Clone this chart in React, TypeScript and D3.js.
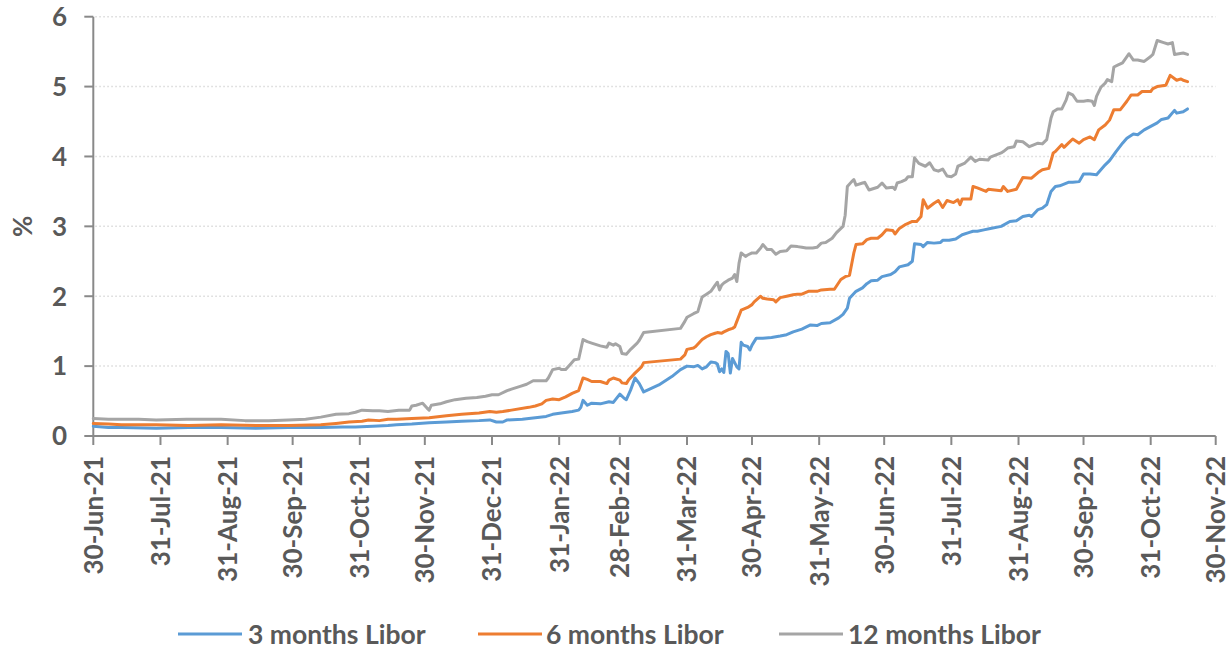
import React from "react";
import * as d3 from "d3";

// Data: day offsets from 30-Jun-21 and Libor values (%)
const BASE_DATE = "2021-06-30";

const days3m = [0,7,13,29,44,59,75,90,105,115,121,129,136,140,147,155,163,170,178,183,186,189,191,198,204,209,212,216,221,224,225,226,228,230,234,238,240,243,245,246,248,250,252,254,261,267,271,274,277,279,281,283,285,287,288,289,290,291,292,293,294,295,297,298,299,300,302,303,304,306,309,313,317,320,323,327,331,334,336,340,344,346,348,349,352,355,357,359,362,364,368,370,372,376,378,379,382,383,385,388,391,392,395,398,401,404,406,408,411,414,419,423,426,429,432,433,436,438,440,442,444,446,450,452,455,457,460,463,465,467,469,472,475,477,480,482,485,488,491,493,496,499,500,503,505];
const libor3m = [0.14,0.12,0.12,0.11,0.12,0.12,0.11,0.12,0.12,0.13,0.13,0.14,0.15,0.16,0.17,0.19,0.20,0.21,0.22,0.23,0.20,0.20,0.23,0.24,0.26,0.28,0.31,0.33,0.35,0.37,0.41,0.51,0.44,0.47,0.46,0.49,0.48,0.60,0.54,0.52,0.66,0.83,0.75,0.63,0.73,0.85,0.95,1.00,0.99,1.01,0.96,0.99,1.06,1.05,1.03,0.92,0.96,0.91,1.21,1.18,0.90,1.11,0.99,0.96,1.34,1.30,1.28,1.23,1.30,1.40,1.40,1.41,1.43,1.45,1.49,1.53,1.59,1.58,1.61,1.62,1.69,1.74,1.83,1.97,2.07,2.12,2.18,2.22,2.23,2.28,2.31,2.35,2.42,2.45,2.50,2.75,2.74,2.71,2.77,2.76,2.77,2.80,2.80,2.82,2.88,2.91,2.93,2.93,2.95,2.97,3.00,3.07,3.08,3.14,3.16,3.14,3.24,3.26,3.31,3.50,3.57,3.58,3.63,3.63,3.64,3.75,3.75,3.74,3.81,3.88,3.94,4.07,4.19,4.26,4.32,4.31,4.38,4.43,4.48,4.53,4.55,4.66,4.62,4.64,4.68];

const days6m = [0,7,13,29,44,59,75,90,105,112,118,124,127,132,136,140,147,155,163,170,178,183,186,189,193,201,204,207,209,212,215,218,221,224,226,228,230,234,237,238,240,243,244,246,247,250,253,254,271,273,274,277,278,281,283,285,287,288,290,291,293,295,296,297,299,302,304,305,308,309,311,314,315,317,320,323,325,327,330,334,336,340,342,345,347,349,351,352,355,357,359,362,364,366,369,370,372,375,378,380,382,383,385,388,390,392,394,397,399,400,401,405,406,408,412,413,419,420,422,426,429,433,436,438,441,443,444,447,448,450,452,455,457,460,462,464,467,469,471,474,475,477,479,482,484,488,489,491,495,497,500,502,503,505];
const libor6m = [0.18,0.17,0.16,0.16,0.15,0.16,0.15,0.15,0.16,0.18,0.20,0.21,0.23,0.22,0.24,0.24,0.25,0.26,0.29,0.31,0.33,0.35,0.34,0.35,0.37,0.41,0.43,0.46,0.51,0.53,0.52,0.56,0.61,0.65,0.83,0.81,0.78,0.78,0.75,0.80,0.83,0.80,0.76,0.75,0.80,0.90,0.99,1.05,1.10,1.16,1.24,1.26,1.28,1.38,1.42,1.45,1.47,1.48,1.47,1.49,1.52,1.54,1.56,1.64,1.80,1.84,1.88,1.92,2.00,1.97,1.96,1.95,1.92,1.98,2.00,2.02,2.03,2.03,2.07,2.07,2.09,2.10,2.10,2.24,2.28,2.30,2.62,2.74,2.75,2.81,2.83,2.83,2.88,2.95,2.94,2.89,2.97,3.03,3.07,3.07,3.14,3.38,3.26,3.33,3.37,3.27,3.37,3.34,3.38,3.31,3.39,3.39,3.57,3.55,3.50,3.53,3.51,3.57,3.50,3.53,3.70,3.69,3.77,3.81,3.83,4.05,4.07,4.17,4.13,4.19,4.25,4.19,4.24,4.28,4.24,4.38,4.45,4.52,4.67,4.67,4.71,4.79,4.88,4.88,4.93,4.93,4.97,5.00,5.02,5.16,5.09,5.11,5.09,5.07];

const days12m = [0,7,21,29,43,59,70,81,90,98,105,112,118,121,124,129,132,136,141,146,147,149,152,154,155,156,160,163,167,172,177,181,184,187,191,193,197,200,203,206,209,210,212,215,216,218,220,222,224,226,228,230,234,237,238,240,241,243,244,246,248,251,252,254,271,273,274,277,279,281,283,285,287,288,289,290,291,293,295,296,297,298,299,301,302,304,306,308,309,311,313,315,317,320,322,325,327,329,332,334,336,338,341,343,346,347,348,350,351,352,355,356,358,362,364,366,369,370,371,373,375,376,378,379,381,384,386,388,390,392,394,396,398,399,402,405,407,409,413,414,419,420,422,425,426,429,432,436,438,440,442,443,445,447,449,450,452,454,457,459,461,462,463,465,467,468,470,471,473,475,478,480,482,485,488,489,491,494,496,498,499,501,503,505];
const libor12m = [0.25,0.24,0.24,0.23,0.24,0.24,0.22,0.22,0.23,0.24,0.27,0.31,0.32,0.34,0.37,0.36,0.36,0.35,0.37,0.37,0.43,0.44,0.47,0.40,0.37,0.44,0.46,0.49,0.52,0.54,0.55,0.57,0.59,0.59,0.65,0.67,0.71,0.74,0.79,0.79,0.79,0.83,0.95,0.97,0.95,0.95,1.02,1.09,1.10,1.38,1.35,1.33,1.29,1.27,1.33,1.30,1.32,1.28,1.18,1.17,1.24,1.33,1.37,1.48,1.54,1.64,1.70,1.75,1.78,1.99,2.03,2.07,2.16,2.20,2.09,2.16,2.19,2.23,2.26,2.31,2.21,2.47,2.62,2.57,2.59,2.62,2.62,2.69,2.74,2.67,2.67,2.60,2.64,2.65,2.72,2.71,2.70,2.69,2.69,2.70,2.76,2.77,2.83,2.91,3.00,3.16,3.57,3.64,3.67,3.59,3.62,3.63,3.52,3.56,3.62,3.55,3.56,3.53,3.62,3.64,3.67,3.71,3.71,3.98,3.90,3.86,3.91,3.81,3.79,3.82,3.72,3.71,3.75,3.86,3.90,3.99,3.93,3.96,3.95,3.99,4.05,4.07,4.12,4.14,4.22,4.21,4.14,4.19,4.18,4.24,4.55,4.64,4.68,4.68,4.81,4.91,4.88,4.79,4.79,4.80,4.79,4.73,4.86,4.99,5.05,5.10,5.07,5.28,5.31,5.34,5.47,5.38,5.38,5.36,5.43,5.46,5.66,5.63,5.61,5.63,5.46,5.47,5.48,5.46];

const seriesNames = ["3 months Libor", "6 months Libor", "12 months Libor"];
const seriesColors = ["#5B9BD5", "#ED7D31", "#A5A5A5"];

const xTickLabels = ["30-Jun-21","31-Jul-21","31-Aug-21","30-Sep-21","31-Oct-21","30-Nov-21","31-Dec-21","31-Jan-22","28-Feb-22","31-Mar-22","30-Apr-22","31-May-22","30-Jun-22","31-Jul-22","31-Aug-22","30-Sep-22","31-Oct-22","30-Nov-22"];
const yTicks = [0, 1, 2, 3, 4, 5, 6];
const yTitle = "%";

const FONT = "Lato, 'Open Sans', sans-serif";
const TEXT = "#595959";
const AXIS = "#898989";

export default function App() {
  const W = 1230, H = 655;
  const left = 93.3, right = 1215.7, top = 16.7, bottom = 436;
  const parse = d3.timeParse("%d-%b-%y");
  const base = d3.timeParse("%Y-%m-%d")(BASE_DATE) as Date;
  const tickDates = xTickLabels.map((s) => parse(s) as Date);

  const x = d3.scaleTime().domain([tickDates[0], tickDates[tickDates.length - 1]]).range([left, right]);
  const y = d3.scaleLinear().domain([0, 6]).range([bottom, top]);

  const mk = (days: number[], vals: number[]) =>
    days.map((d, i) => ({ date: d3.timeDay.offset(base, d), v: vals[i] }));
  const series = [mk(days3m, libor3m), mk(days6m, libor6m), mk(days12m, libor12m)];

  const line = d3
    .line<{ date: Date; v: number }>()
    .x((d) => x(d.date))
    .y((d) => y(d.v));

  const legendItems = [
    { lx: 178, tx: 248 },
    { lx: 478, tx: 546 },
    { lx: 779, tx: 848 },
  ];

  return (
    <svg width={W} height={H} style={{ position: "absolute", left: 0, top: 0, background: "#fff" }}>
      {/* grid */}
      {yTicks.filter((t) => t > 0).map((t) => (
        <line key={"g" + t} x1={left + 2} x2={right} y1={y(t)} y2={y(t)} stroke="#D9D9D9" strokeWidth={1.5} strokeDasharray="1.5 2.5" />
      ))}
      {/* y axis */}
      <line x1={left} x2={left} y1={top} y2={bottom} stroke={AXIS} strokeWidth={2} />
      {yTicks.map((t) => (
        <g key={"y" + t}>
          <line x1={left - 9} x2={left} y1={y(t)} y2={y(t)} stroke={AXIS} strokeWidth={2} />
          <text x={67} y={y(t)} dy="0.36em" textAnchor="end" fontFamily={FONT} fontWeight={700} fontSize={26} fill={TEXT}>
            {t}
          </text>
        </g>
      ))}
      <text transform={`translate(32,${(top + bottom) / 2}) rotate(-90)`} textAnchor="middle" fontFamily={FONT} fontWeight={700} fontSize={26} fill={TEXT}>
        {yTitle}
      </text>
      {/* x axis */}
      <line x1={left} x2={right} y1={bottom} y2={bottom} stroke={AXIS} strokeWidth={2} />
      {tickDates.map((d, i) => (
        <g key={"x" + i}>
          <line x1={x(d)} x2={x(d)} y1={bottom} y2={bottom + 9} stroke={AXIS} strokeWidth={2} />
          <text
            transform={`translate(${x(d)},${bottom + 20}) rotate(-90)`}
            dy="0.36em"
            textAnchor="end"
            fontFamily={FONT}
            fontWeight={700}
            fontSize={26}
            fill={TEXT}
          >
            {xTickLabels[i]}
          </text>
        </g>
      ))}
      {/* lines */}
      {series.map((s, i) => (
        <path key={"s" + i} d={line(s) || ""} fill="none" stroke={seriesColors[i]} strokeWidth={3} strokeLinejoin="round" strokeLinecap="round" />
      ))}
      {/* legend */}
      {legendItems.map((it, i) => (
        <g key={"l" + i}>
          <line x1={it.lx} x2={it.lx + 64} y1={634} y2={634} stroke={seriesColors[i]} strokeWidth={3} />
          <text x={it.tx} y={634} dy="0.36em" fontFamily={FONT} fontWeight={700} fontSize={26.5} fill={TEXT}>
            {seriesNames[i]}
          </text>
        </g>
      ))}
    </svg>
  );
}
